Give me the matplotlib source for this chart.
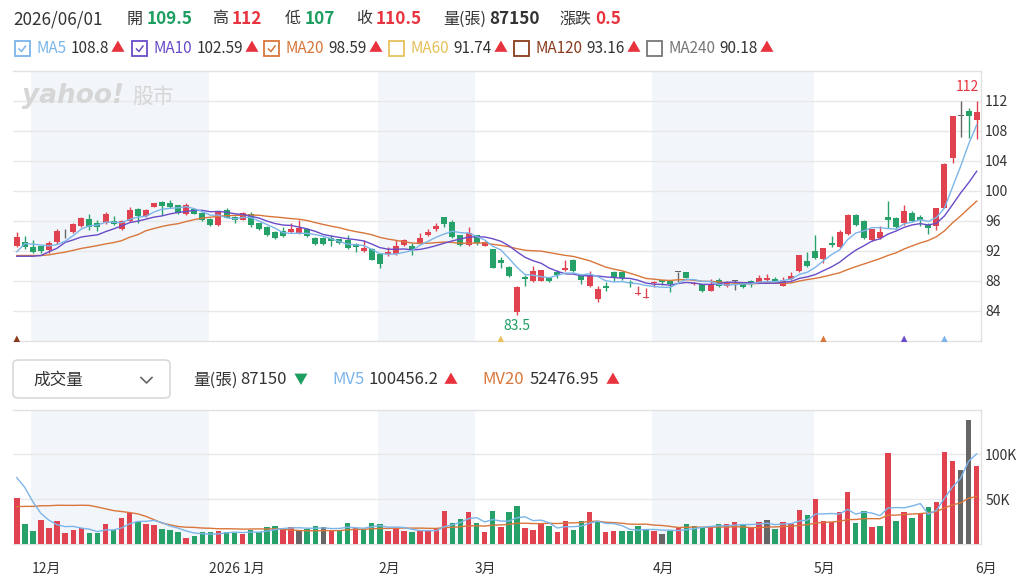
import numpy as np
import pandas as pd
import matplotlib
matplotlib.use('Agg')
import matplotlib.pyplot as plt
from matplotlib.patches import Rectangle, FancyBboxPatch
from matplotlib.lines import Line2D

plt.rcParams['font.family'] = ['Noto Sans CJK TC', 'DejaVu Sans']

# ---------------- data ----------------
opens = [92.7, 93.2, 92.6, 92.65, 92.1, 93.15, 94.9, 94.5, 95.3, 96.3,
         95.8, 95.8, 96.05, 94.9, 96.05, 97.6, 96.7, 97.9, 98.55, 98.45,
         98.15, 96.95, 97.6, 97.0, 96.2, 95.5, 97.4, 96.6, 96.2, 97.0,
         95.7, 95.25, 94.55, 94.7, 94.5, 94.35, 95.0, 93.75, 93.8, 93.7,
         93.55, 93.45, 93.0, 92.05, 92.25, 91.55, 91.55, 91.6, 92.8, 92.65,
         93.0, 94.1, 94.9, 96.5, 95.9, 94.1, 92.8, 94.1, 92.7, 92.2,
         90.85, 89.9, 83.85, 88.6, 87.95, 88.0, 88.45, 89.2, 89.45, 90.85,
         88.75, 87.3, 85.65, 87.3, 89.2, 89.2, 87.9, 86.25, 85.75, 87.7,
         88.1, 88.0, 89.2, 89.2, 87.55, 87.55, 86.7, 88.1, 87.3, 88.0,
         87.7, 88.0, 87.8, 88.15, 88.25, 87.4, 88.25, 89.28, 90.62, 91.95,
         90.9, 93.1, 92.5, 94.3, 96.85, 96.0, 93.45, 93.8, 96.55, 96.4,
         95.75, 97.1, 96.5, 95.5, 95.3, 97.8, 104.4, 110.0, 110.7, 109.5]
highs = [94.5, 94.0, 93.5, 92.7, 93.3, 94.9, 94.9, 95.7, 96.5, 96.9,
         96.1, 97.2, 96.7, 96.2, 97.9, 97.7, 97.55, 98.45, 98.7, 98.75,
         98.2, 98.35, 97.8, 97.15, 96.35, 97.35, 97.7, 96.7, 97.2, 97.15,
         95.8, 95.3, 94.7, 95.25, 95.8, 96.1, 95.1, 93.9, 93.85, 94.1,
         93.6, 94.1, 93.1, 93.45, 92.35, 91.65, 92.55, 93.45, 93.55, 93.1,
         94.35, 95.0, 95.7, 96.6, 96.1, 94.2, 95.15, 94.2, 93.3, 92.3,
         91.2, 89.95, 87.3, 88.75, 89.95, 89.45, 88.5, 89.5, 90.85, 90.95,
         88.9, 89.35, 87.4, 87.85, 89.35, 89.35, 88.1, 87.3, 87.1, 87.95,
         88.2, 88.1, 89.2, 89.25, 87.9, 87.6, 88.3, 88.35, 88.0, 88.1,
         87.8, 88.15, 88.8, 89.0, 88.6, 88.55, 89.15, 91.5, 91.87, 94.2,
         92.4, 93.95, 94.8, 96.9, 96.9, 96.1, 94.95, 95.3, 98.65, 96.6,
         98.2, 97.3, 96.85, 95.8, 97.8, 103.7, 110.0, 112.0, 111.1, 112.0]
lows = [92.6, 92.3, 91.75, 91.7, 91.8, 93.0, 93.7, 94.35, 95.2, 94.8,
        94.7, 95.6, 95.45, 94.8, 95.9, 95.8, 96.5, 97.85, 96.75, 97.8,
        97.0, 96.8, 96.9, 96.05, 95.4, 95.35, 96.35, 95.8, 96.1, 95.25,
        94.8, 94.0, 93.6, 93.9, 94.35, 94.25, 93.9, 92.85, 92.8, 92.65,
        93.0, 92.25, 91.9, 91.9, 90.8, 89.8, 91.3, 91.45, 92.65, 91.45,
        92.9, 94.0, 94.7, 95.15, 93.8, 92.7, 92.7, 92.8, 92.65, 89.7,
        89.8, 88.55, 83.5, 87.3, 87.85, 87.95, 87.9, 88.45, 89.35, 89.2,
        87.55, 87.2, 85.2, 86.7, 88.0, 88.1, 87.2, 86.2, 85.7, 87.2,
        87.45, 86.55, 87.9, 88.35, 87.5, 86.6, 86.65, 87.15, 87.25, 86.8,
        87.1, 87.25, 87.7, 88.05, 87.7, 87.3, 88.15, 89.15, 89.9, 90.9,
        90.4, 92.6, 92.35, 94.2, 95.4, 93.6, 93.3, 93.6, 95.05, 94.95,
        95.5, 95.85, 95.4, 94.3, 94.8, 97.7, 103.7, 107.2, 107.1, 107.0]
closes = [93.9, 92.6, 91.85, 92.0, 93.1, 94.7, 94.9, 95.6, 96.35, 95.25,
          95.15, 96.9, 95.55, 96.05, 97.4, 96.7, 97.45, 98.35, 98.0, 97.9,
          97.1, 98.2, 97.0, 96.1, 95.5, 97.2, 96.45, 96.15, 97.1, 95.45,
          94.9, 94.1, 93.7, 94.05, 95.0, 95.0, 94.0, 92.9, 92.9, 93.35,
          93.1, 92.35, 92.5, 92.35, 90.85, 90.25, 91.9, 92.65, 93.45, 92.1,
          93.75, 94.55, 95.35, 95.6, 93.9, 92.8, 94.35, 93.1, 93.2, 89.75,
          90.35, 88.7, 87.2, 88.3, 89.3, 89.4, 88.0, 88.75, 89.8, 89.35,
          88.2, 88.7, 86.9, 87.05, 88.55, 88.45, 87.7, 86.4, 85.9, 87.9,
          87.9, 87.65, 89.2, 88.4, 87.75, 86.7, 87.65, 87.3, 87.9, 88.0,
          87.15, 87.7, 88.4, 88.4, 87.85, 87.95, 88.7, 91.42, 89.95, 91.1,
          92.35, 92.75, 94.55, 96.85, 95.5, 93.75, 94.9, 94.6, 96.2, 95.15,
          97.3, 96.0, 96.2, 95.1, 97.7, 103.6, 110.0, 110.0, 110.0, 110.5]
volumes = [50900, 21900, 14500, 26800, 18200, 25600, 11900, 15600, 17500, 11900,
           11900, 21900, 15600, 28600, 34900, 24900, 22300, 20800, 16700, 15600,
           13000, 6700, 9300, 13000, 13000, 14500, 13000, 12600, 10800, 15600,
           13800, 19300, 20400, 17500, 18600, 14900, 16700, 20400, 19300, 14900,
           15600, 23000, 17800, 16700, 23000, 21900, 14500, 18200, 14500, 13000,
           14500, 14500, 17500, 37200, 23000, 28200, 35700, 23000, 13000, 36800,
           19300, 35300, 42000, 18200, 15600, 21900, 20400, 13000, 25600, 15600,
           25600, 35700, 24900, 13000, 14500, 14500, 14900, 20400, 16700, 14500,
           10800, 14500, 18200, 21900, 20400, 18200, 19300, 21900, 21900, 24200,
           21200, 19300, 24200, 26800, 16700, 24200, 21900, 38300, 32300, 49800,
           25600, 24200, 35300, 58400, 23000, 36800, 19300, 20400, 101100, 25600,
           35300, 29400, 34200, 41600, 47200, 102500, 92500, 82000, 138100, 87150]

# sessions before the first visible one (read back from the MA curves)
prior_closes = [92.6, 91.9, 92.0, 91.3, 90.8, 91.5, 90.9, 91.2, 91.6, 91.2,
                92.6, 91.85, 91.0, 88.1, 89.95, 87.1, 92.35, 92.5, 93.65]
prior_volumes = [14000, 16000, 12000, 18000, 15000, 13000, 17000, 14000, 16000,
                 48000, 62000, 55000, 50000, 58000, 54000, 76900, 94500, 91700, 56000]

month_labels = ['12月', '2026 1月', '2月', '3月', '4月', '5月', '6月']
month_starts = [2, 24, 45, 57, 79, 99, 119]
shaded_spans = [(2, 24), (45, 57), (79, 99)]

price_ticks = [84, 88, 92, 96, 100, 104, 108, 112]
vol_ticks = [50000, 100000]
vol_tick_labels = ['50K', '100K']

signal_idx = [0, 60, 100, 110, 115]
signal_colors = ['#8a3b1c', '#e6c15c', '#d9763b', '#6a4cc8', '#7cb5ea']

ma_names = ['MA5', 'MA10', 'MA20', 'MA60', 'MA120', 'MA240']
ma_values = ['108.8', '102.59', '98.59', '91.74', '93.16', '90.18']
ma_checked = [True, True, True, False, False, False]

# ---------------- colours ----------------
UP, DOWN, FLAT = '#e0434f', '#26a16a', '#666666'
C_MA5, C_MA10, C_MA20 = '#7cb5ea', '#6a4cc8', '#d9763b'
ma_colors = [C_MA5, C_MA10, C_MA20, '#e6c15c', '#8a3b1c', '#777777']
RED_T, GREEN_T = '#e8333f', '#1c9e60'
BAND = '#f2f6fa'
GRID = '#e8e8e8'
TXT = '#333333'

W, H = 1028, 585
fig = plt.figure(figsize=(W / 100, H / 100), dpi=100)
fig.patch.set_facecolor('white')


def ftext(x, y, s, **kw):
    kw.setdefault('va', 'center')
    kw.setdefault('ha', 'left')
    kw.setdefault('color', TXT)
    return fig.text(x / W, 1 - y / H, s, **kw)


o = np.array(opens); h = np.array(highs); l = np.array(lows); c = np.array(closes)
v = np.array(volumes, dtype=float)
n = len(c)
x = np.arange(n)

allc = pd.Series(prior_closes + closes)
allv = pd.Series(prior_volumes + volumes, dtype=float)
k = len(prior_closes)
ma5 = allc.rolling(5).mean().values[k:]
ma10 = allc.rolling(10).mean().values[k:]
ma20 = allc.rolling(20).mean().values[k:]
mv5 = allv.rolling(5).mean().values[k:]
mv20 = allv.rolling(20).mean().values[k:]

ccol = [UP if cc > oo + 1e-9 else (DOWN if cc < oo - 1e-9 else FLAT) for oo, cc in zip(o, c)]
prevc = np.concatenate([[prior_closes[-1]], c[:-1]])
vcol = [UP if cc > pc + 1e-9 else (DOWN if cc < pc - 1e-9 else FLAT) for pc, cc in zip(prevc, c)]

# ---------------- panels ----------------
ax1 = fig.add_axes([13 / W, 1 - 341 / H, 968 / W, 270 / H])
ax2 = fig.add_axes([13 / W, 1 - 544 / H, 968 / W, 134.5 / H])

for ax in (ax1, ax2):
    ax.set_xlim(-0.47, n - 1 + 0.53)
    for a, b in shaded_spans:
        ax.axvspan(a - 0.2, b - 0.2, color=BAND, zorder=0, lw=0)
    ax.set_axisbelow(True)
    ax.grid(axis='y', color=GRID, lw=1)
    ax.spines['left'].set_visible(False)
    for s in ('top', 'right', 'bottom'):
        ax.spines[s].set_color('#e2e2e2')
        ax.spines[s].set_linewidth(1)
    ax.yaxis.tick_right()
    ax.tick_params(axis='y', length=0, pad=3, labelsize=10, labelcolor=TXT)
    ax.set_xticks([])
    ax.set_facecolor('none')

ax1.set_ylim(80, 116)
ax1.set_yticks(price_ticks)
ax1.set_yticklabels([str(t) for t in price_ticks])

ax1.vlines(x, l, h, colors=ccol, lw=1, zorder=2)
ax1.bar(x, np.maximum(np.abs(c - o), 0.07), bottom=np.minimum(o, c), width=0.74,
        color=ccol, lw=0, zorder=3)
ax1.plot(x, ma20, color=C_MA20, lw=1.0, zorder=4)
ax1.plot(x, ma10, color=C_MA10, lw=1.0, zorder=4)
ax1.plot(x, ma5, color=C_MA5, lw=1.0, zorder=4)

ax1.scatter(signal_idx, [80.3] * len(signal_idx), marker='^', s=22, c=signal_colors,
            clip_on=False, zorder=6, lw=0)

imax = int(np.where(h == h.max())[0][-1])
ax1.annotate(f'{h.max():g}', (imax + 0.3, h.max()), xytext=(0, 5), textcoords='offset points',
             ha='right', va='bottom', color=RED_T, fontsize=10)
imin = int(np.argmin(l))
ax1.annotate(f'{l.min():g}', (imin, l.min()), xytext=(0, -3), textcoords='offset points',
             ha='center', va='top', color=GREEN_T, fontsize=10)

# watermark
ftext(22, 96, 'yahoo!', fontsize=19, fontweight='bold', fontstyle='italic',
      color='#d6d6d6', family=['DejaVu Sans'])
ftext(132, 97, '股市', fontsize=15, color='#d6d6d6')

# ---------------- volume panel ----------------
ax2.set_ylim(0, 150000)
ax2.set_yticks(vol_ticks)
ax2.set_yticklabels(vol_tick_labels)
ax2.bar(x, v, width=0.68, color=vcol, lw=0, zorder=3)
ax2.plot(x, mv20, color=C_MA20, lw=1.0, zorder=4)
ax2.plot(x, mv5, color=C_MA5, lw=1.0, zorder=4)
for ms, lab in zip(month_starts, month_labels):
    ax2.text(ms - 0.2, -0.185, lab, transform=ax2.get_xaxis_transform(),
             ha='left', va='center', fontsize=10, color=TXT)

# ---------------- header ----------------
y1 = 19
HN, HC = 12.3, 11.5
ftext(13, y1, '2026/06/01', fontsize=HN)
ftext(127, y1, '開', fontsize=HC)
ftext(147, y1, '109.5', fontsize=HN, color=GREEN_T, fontweight='bold')
ftext(212, y1, '高', fontsize=HC)
ftext(232, y1, '112', fontsize=HN, color=RED_T, fontweight='bold')
ftext(285, y1, '低', fontsize=HC)
ftext(305, y1, '107', fontsize=HN, color=GREEN_T, fontweight='bold')
ftext(356, y1, '收', fontsize=HC)
ftext(376, y1, '110.5', fontsize=HN, color=RED_T, fontweight='bold')
ftext(443, y1, '量(張)', fontsize=HC)
ftext(489, y1, '87150', fontsize=HN, fontweight='bold')
ftext(559, y1, '漲跌', fontsize=HC)
ftext(595, y1, '0.5', fontsize=HN, color=RED_T, fontweight='bold')

y2 = 48.5
box_x = [14.5, 132, 264, 389, 514, 647]
fig.canvas.draw()
r = fig.canvas.get_renderer()
for bx, name, val, col, chk in zip(box_x, ma_names, ma_values, ma_colors, ma_checked):
    fig.add_artist(Rectangle((bx / W, 1 - 56 / H), 15 / W, 14.5 / H, transform=fig.transFigure,
                             fill=False, edgecolor=col, lw=1.3))
    if chk:
        fig.add_artist(Line2D([(bx + 4.5) / W, (bx + 7) / W, (bx + 11) / W],
                              [1 - 49 / H, 1 - 51.5 / H, 1 - 46 / H],
                              transform=fig.transFigure, color=col, lw=1.1))
    t1 = ftext(bx + 21.5, y2, name, fontsize=11, color=col)
    e1 = t1.get_window_extent(r)
    t2 = ftext(e1.x1 + 4, y2, val, fontsize=11)
    e2 = t2.get_window_extent(r)
    ftext(e2.x1 + 2, y2, '▲', fontsize=10, color=RED_T)

# volume header
fig.add_artist(FancyBboxPatch((13 / W, 1 - 398 / H), 157 / W, 38 / H,
                              boxstyle='round,pad=0,rounding_size=0.006',
                              transform=fig.transFigure, fill=False,
                              edgecolor='#d9d9d9', lw=1.2))
ftext(33, 380, '成交量', fontsize=12)
fig.add_artist(Line2D([141 / W, 146.5 / W, 152 / W], [1 - 377.5 / H, 1 - 383 / H, 1 - 377.5 / H],
                      transform=fig.transFigure, color='#666666', lw=1.2))
y3 = 380
ftext(193, y3, '量(張)', fontsize=12)
ftext(240, y3, '87150', fontsize=12)
ftext(294, y3, '▼', fontsize=10, color=GREEN_T)
ftext(332, y3, 'MV5', fontsize=12, color=C_MA5)
ftext(369, y3, '100456.2', fontsize=12)
ftext(444, y3, '▲', fontsize=10, color=RED_T)
ftext(482, y3, 'MV20', fontsize=12, color=C_MA20)
ftext(530, y3, '52476.95', fontsize=12)
ftext(606, y3, '▲', fontsize=10, color=RED_T)

fig.savefig('out.png', dpi=100, facecolor='white')
